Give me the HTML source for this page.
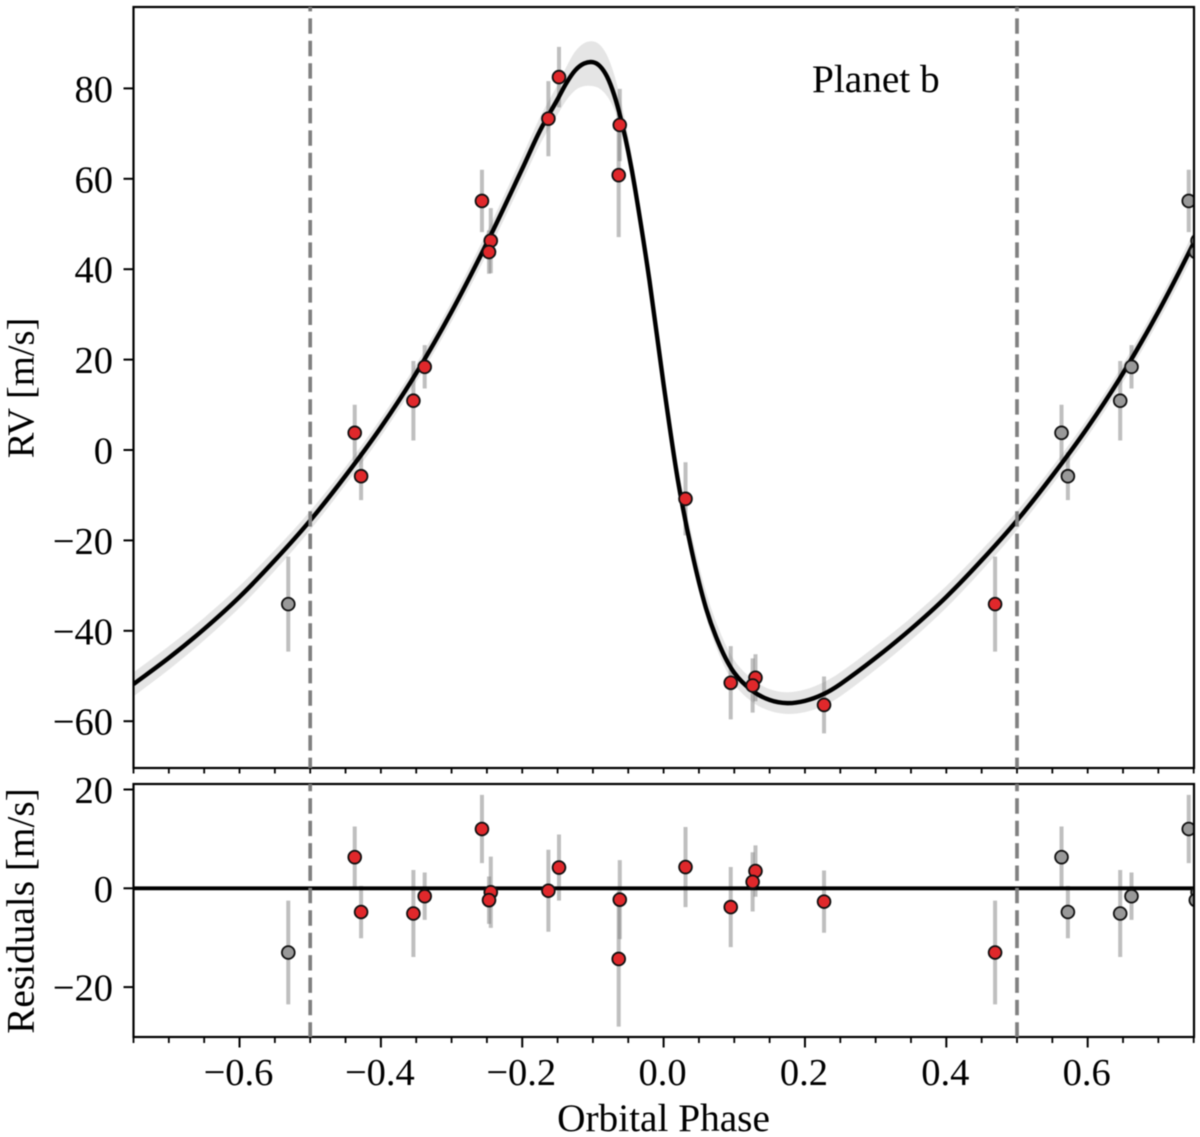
<!DOCTYPE html>
<html lang="en">
<head>
<meta charset="utf-8">
<title>Planet b phase-folded RV</title>
<style>
html,body{margin:0;padding:0;background:#fff;}
svg{display:block;filter:blur(0.4px);}
text{font-family:"Liberation Serif","Times New Roman",serif;fill:#000;font-size:38.5px;}
text.big{font-size:39.3px;}
</style>
</head>
<body>
<svg id="chart" xmlns="http://www.w3.org/2000/svg" width="1200" height="1137" viewBox="0 0 1200 1137">
  <defs>
    <clipPath id="clip-top"><rect x="133.5" y="7" width="1060.5" height="761"/></clipPath>
    <clipPath id="clip-bottom"><rect x="133.5" y="784" width="1060.5" height="253"/></clipPath>
  </defs>
  <g id="top-panel" clip-path="url(#clip-top)"></g>
  <g id="bottom-panel" clip-path="url(#clip-bottom)"></g>
  <g id="axes"></g>
  <text class="big" x="812" y="92">Planet b</text>
  <text class="big" x="663.5" y="1131" text-anchor="middle">Orbital Phase</text>
  <text transform="translate(33.5 388) rotate(-90)" text-anchor="middle">RV [m/s]</text>
  <text class="big" transform="translate(33.5 911) rotate(-90)" text-anchor="middle">Residuals [m/s]</text>
</svg>
<script>
// Observations
const phases   = [-0.437,-0.428,-0.354,-0.338,-0.257,-0.2445,-0.247,-0.163,-0.148,-0.0635,-0.062,0.031,0.095,0.130,0.126,0.227,0.469];
const rvValues = [3.8,-5.8,10.9,18.4,55.1,46.3,43.8,73.3,82.5,60.8,71.9,-10.8,-51.5,-50.4,-52.1,-56.4,-34.1];
const rvErrors = [6.2,5.3,8.8,4.8,6.9,7.2,4.8,8.3,6.7,13.7,8.0,8.1,8.1,5.2,6.0,6.3,10.5];
const residuals = [6.3,-4.8,-5.1,-1.6,12.0,-0.8,-2.4,-0.5,4.2,-14.3,-2.3,4.3,-3.8,3.5,1.3,-2.7,-13.0];

// Model curve, one period
const modelPhases = [-0.75,-0.70,-0.65,-0.60,-0.55,-0.50,-0.45,-0.40,-0.35,-0.30,-0.25,-0.20,-0.175,-0.15,-0.1375,-0.125,-0.1125,-0.10,-0.09,-0.08,-0.07,-0.06,-0.05,-0.04,-0.02,0,0.02,0.04,0.06,0.08,0.10,0.125,0.15,0.175,0.20,0.225,0.25];
const modelValues = [-51.8,-46,-39.6,-32.5,-24.4,-15.6,-5.7,5,17,30.6,45.8,62.2,70.6,77.6,81.2,84,85.5,85.8,84.9,82.6,78.6,73,66,57.5,37.5,14.5,-6.5,-22.5,-35,-43.5,-49.3,-53.2,-55.3,-56,-55.5,-54.1,-51.8];
const modelUpper  = [-49.2,-43.4,-37.1,-30.1,-22.1,-13.5,-3.7,7,19,32.8,48.3,65,73.6,80.8,84.8,88.2,90,90.4,89.6,87.3,83.1,77,69.4,60.5,40.1,17.1,-3.5,-18.9,-31.4,-40.3,-46.5,-50.6,-52.9,-53.6,-53,-51.5,-49.2];
const modelLower  = [-54.5,-48.6,-42.1,-34.9,-26.7,-17.7,-7.7,3,15,28.4,43.3,59.4,67.6,74.2,77.4,79.6,80.5,80.5,79.9,78.3,75.4,70.8,64.4,56.3,36.3,13.3,-7.7,-24,-37,-45.8,-51.8,-55.7,-57.7,-58.4,-58,-56.7,-54.5];

// Tick labels
const xMajorTicks = [-0.6,-0.4,-0.2,0.0,0.2,0.4,0.6];
const xMinorTicks = [-0.75,-0.7,-0.65,-0.55,-0.5,-0.45,-0.35,-0.3,-0.25,-0.15,-0.1,-0.05,0.05,0.1,0.15,0.25,0.3,0.35,0.45,0.5,0.55,0.65,0.7,0.75];
const rvTicks = [80,60,40,20,0,-20,-40,-60];
const residualTicks = [20,0,-20];
const phaseBoundaries = [-0.5,0.5];

const NS = 'http://www.w3.org/2000/svg';
const xScale = p => 663.6 + 706.8 * p;
const yTop = v => 450 - 4.52 * v;
const yBottom = v => 888.3 - 4.94 * v;
const AX = {left:133.5,right:1194,topT:7,topB:768,botT:784,botB:1037};

function make(tag, attrs, parent) {
  const el = document.createElementNS(NS, tag);
  for (const k in attrs) el.setAttribute(k, attrs[k]);
  parent.appendChild(el);
  return el;
}
function fmt(v, d) {
  const s = Math.abs(v).toFixed(d);
  return (v < 0 ? '\u2212' : '') + s;
}
// Smooth path through points with finite-difference tangents
function smooth(pts, move) {
  let d = (move ? 'M' : 'L') + pts[0][0].toFixed(2) + ' ' + pts[0][1].toFixed(2);
  const tan = pts.map((p, i) => {
    const a = pts[Math.max(0, i - 1)], b = pts[Math.min(pts.length - 1, i + 1)];
    return (b[1] - a[1]) / (b[0] - a[0]);
  });
  for (let i = 0; i < pts.length - 1; i++) {
    const h = (pts[i + 1][0] - pts[i][0]) / 3;
    d += 'C' + (pts[i][0] + h).toFixed(2) + ' ' + (pts[i][1] + tan[i] * h).toFixed(2) + ' '
       + (pts[i + 1][0] - h).toFixed(2) + ' ' + (pts[i + 1][1] - tan[i + 1] * h).toFixed(2) + ' '
       + pts[i + 1][0].toFixed(2) + ' ' + pts[i + 1][1].toFixed(2);
  }
  return d;
}

const topPanel = document.getElementById('top-panel');
const bottomPanel = document.getElementById('bottom-panel');
const axesGroup = document.getElementById('axes');

// Model over two wrapped periods
const allPhases = modelPhases.concat(modelPhases.slice(1).map(p => p + 1));
const allValues = modelValues.concat(modelValues.slice(1));
const allUpper = modelUpper.concat(modelUpper.slice(1));
const allLower = modelLower.concat(modelLower.slice(1));
const curvePts = allPhases.map((p, i) => [xScale(p), yTop(allValues[i])]);
const upperPts = allPhases.map((p, i) => [xScale(p), yTop(allUpper[i])]);
const lowerPts = allPhases.map((p, i) => [xScale(p), yTop(allLower[i])]).reverse();

const band = make('path', {d: smooth(upperPts, true) + smooth(lowerPts, false) + 'Z', fill: '#e5e5e5', stroke: 'none'}, topPanel);



// Points: red in primary phase, grey for wrapped copies
function drawErrors(parent, yFn, values, name) {
  phases.forEach((p, i) => {
    [[p, 'primary'], [p + 1, 'wrapped'], [p - 1, 'wrapped']].forEach(([ph, kind]) => {
      if (ph < -0.78 || ph > 0.78) return;
      const cx = xScale(ph);
      const line = make('line', {x1: cx, x2: cx, y1: yFn(values[i] - rvErrors[i]), y2: yFn(values[i] + rvErrors[i]), stroke: 'rgba(128,128,128,0.5)', 'stroke-width': 4}, parent);
      
      
    });
  });
}
function drawPoints(parent, yFn, values, name) {
  phases.forEach((p, i) => {
    [[p, 'primary'], [p + 1, 'wrapped'], [p - 1, 'wrapped']].forEach(([ph, kind]) => {
      if (ph < -0.78 || ph > 0.78) return;
      const dot = make('circle', {cx: xScale(ph), cy: yFn(values[i]), r: 6.4, fill: kind === 'primary' ? '#e0282b' : '#999999', stroke: '#111', 'stroke-width': 1.8}, parent);
      
      
    });
  });
}

drawErrors(topPanel, yTop, rvValues, 'rv');
const curve = make('path', {d: smooth(curvePts, true), fill: 'none', stroke: '#000', 'stroke-width': 4.4}, topPanel);


drawPoints(topPanel, yTop, rvValues, 'rv');

drawErrors(bottomPanel, yBottom, residuals, 'residual');
const zero = make('line', {x1: AX.left, x2: AX.right, y1: yBottom(0), y2: yBottom(0), stroke: '#000', 'stroke-width': 3.8}, bottomPanel);


drawPoints(bottomPanel, yBottom, residuals, 'residual');

// Spines
[[AX.topT, AX.topB, 'rv-frame'], [AX.botT, AX.botB, 'residuals-frame']].forEach(([t, b, nm]) => {
  const r = make('rect', {x: AX.left, y: t, width: AX.right - AX.left, height: b - t, fill: 'none', stroke: '#000', 'stroke-width': 2.2}, axesGroup);
  
  
});

// Phase boundaries
phaseBoundaries.forEach(p => {
  [[AX.topT, AX.topB, 11], [AX.botT, AX.botB, 8.1]].forEach(([t, b, off]) => {
    const l = make('line', {x1: xScale(p), x2: xScale(p), y1: t, y2: b, stroke: '#808080', 'stroke-width': 3.7, 'stroke-dasharray': '15.4 7', 'stroke-dashoffset': off}, axesGroup);
    
    
  });
});

// Y ticks
function yAxis(ticks, yFn, name) {
  ticks.forEach(v => {
    const t = make('line', {x1: AX.left - 10, x2: AX.left, y1: yFn(v), y2: yFn(v), stroke: '#000', 'stroke-width': 2}, axesGroup);
    
    
    const lab = make('text', {x: 113, y: yFn(v) + 13.5, 'text-anchor': 'end'}, axesGroup);
    lab.textContent = fmt(v, 0);
    
    
  });
}
yAxis(rvTicks, yTop, 'rv-y');
yAxis(residualTicks, yBottom, 'residual-y');

// X ticks
xMajorTicks.concat(xMinorTicks).forEach(p => {
  const t = make('line', {x1: xScale(p), x2: xScale(p), y1: AX.topB, y2: AX.topB + 5.5, stroke: '#000', 'stroke-width': 1.8}, axesGroup);
  
  
});
xMinorTicks.forEach(p => {
  const t = make('line', {x1: xScale(p), x2: xScale(p), y1: AX.botB, y2: AX.botB + 6, stroke: '#000', 'stroke-width': 1.8}, axesGroup);
  
  
});
xMajorTicks.forEach(p => {
  const t = make('line', {x1: xScale(p), x2: xScale(p), y1: AX.botB, y2: AX.botB + 10.5, stroke: '#000', 'stroke-width': 2}, axesGroup);
  
  
  const lab = make('text', {x: xScale(p) - 1, y: 1085, 'text-anchor': 'middle'}, axesGroup);
  lab.textContent = fmt(p, 1);
  
  
});
</script>
</body>
</html>
